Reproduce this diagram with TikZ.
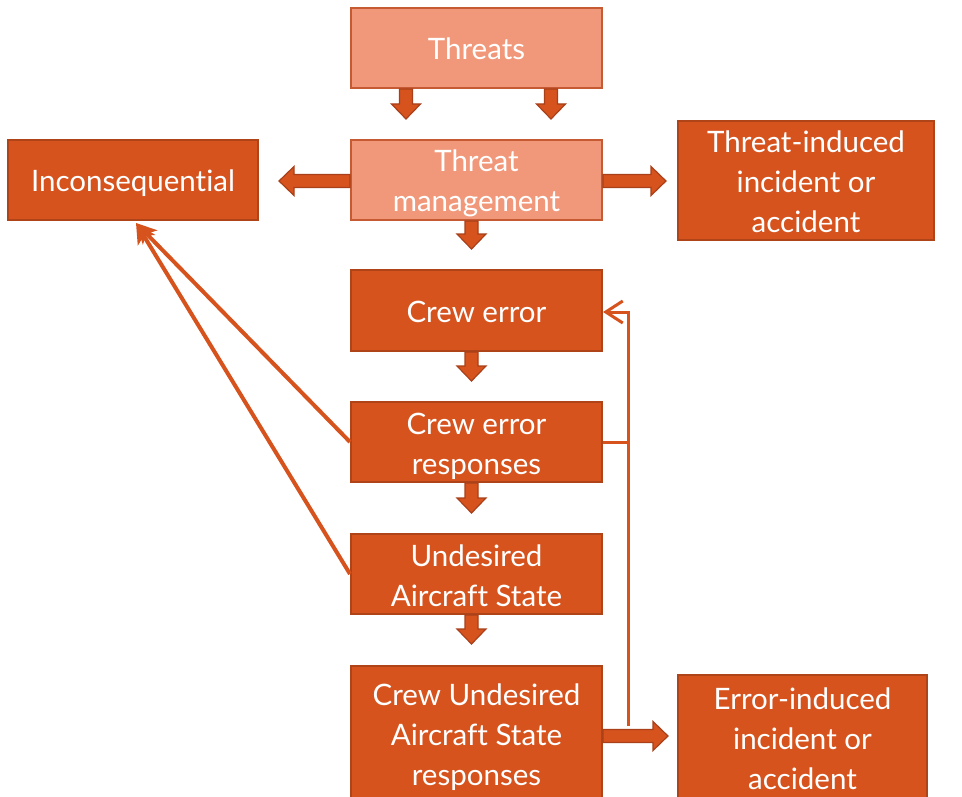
\documentclass[tikz,border=0pt]{standalone}
\usepackage{fontspec}
\setmainfont{Lato}[Ligatures={NoCommon}]
\usetikzlibrary{calc,arrows.meta}

\definecolor{darkfill}{HTML}{D6531E}
\definecolor{darkline}{HTML}{B04419}
\definecolor{lightfill}{HTML}{F1987A}
\definecolor{lightline}{HTML}{C55A33}
\definecolor{arrline}{HTML}{A9401A}

% block arrow: start point, direction angle, length
\newcommand\blockarrow[3]{%
  \filldraw[blockarr, shift={#1}, rotate=#2]
    (0,-6.5) -- ({#3-15},-6.5) -- ({#3-15},-14.5) -- (#3,0)
    -- ({#3-15},14.5) -- ({#3-15},6.5) -- (0,6.5) -- cycle;}

% box text: rows of equal height, set a little below the box centre
\newcommand\lines[1]{\raisebox{0pt}[\height][\dimexpr\depth-8pt\relax]{%
  \begin{tabular}{@{}c@{}}#1\end{tabular}}}

\tikzset{
  box/.style={draw=darkline, fill=darkfill, line width=2pt, text=white,
    align=center, inner sep=0pt, font=\fontsize{29.5}{40}\selectfont},
  lightbox/.style={box, draw=lightline, fill=lightfill},
  blockarr/.style={fill=darkfill, draw=arrline, line width=1.2pt, line join=miter},
  conv/.style={draw=darkfill, line width=4pt, -{Stealth[length=20pt,width=20pt,inset=5pt]}},
  fb/.style={draw=darkfill, line width=3pt},
}

\begin{document}
\begin{tikzpicture}[x=1pt, y=-1pt]
\useasboundingbox (0,0) rectangle (962,797);
\clip (0,0) rectangle (962,797);

% boxes
\node[lightbox, minimum width=251pt, minimum height=80pt] (threats) at (476.5,48) {\lines{Threats}};
\node[lightbox, minimum width=251pt, minimum height=80pt] (tm) at (476.5,180) {\lines{Threat\\management}};
\node[box, minimum width=250pt, minimum height=80pt] (incon) at (133,180) {\lines{Inconsequential}};
\node[box, minimum width=256pt, minimum height=119pt] (tia) at (806,180.5) {\lines{Threat-induced\\incident or\\accident}};
\node[box, minimum width=251pt, minimum height=81pt] (ce) at (476.5,310.5) {\lines{Crew error}};
\node[box, minimum width=251pt, minimum height=80pt] (cer) at (476.5,442) {\lines{Crew error\\responses}};
\node[box, minimum width=251pt, minimum height=80pt] (uas) at (476.5,574) {\lines{Undesired\\Aircraft State}};
\node[box, minimum width=251pt, minimum height=134pt] (cuas) at (476.5,733) {\lines{Crew Undesired\\Aircraft State\\responses}};
\node[box, minimum width=249pt, minimum height=124pt] (eia) at (802.5,737) {\lines{Error-induced\\incident or\\accident}};

% block arrows
\blockarrow{($(threats.south)+(-70.5,0)$)}{-90}{30}
\blockarrow{($(threats.south)+(74.5,0)$)}{-90}{30}
\blockarrow{($(tm.south)+(-5,0)$)}{-90}{28}
\blockarrow{($(tm.west)+(0,1)$)}{180}{71}
\blockarrow{($(tm.east)+(0,1)$)}{0}{63}
\blockarrow{($(ce.south)+(-5,0)$)}{-90}{29}
\blockarrow{($(cer.south)+(-5,0)$)}{-90}{30}
\blockarrow{($(uas.south)+(-5,0)$)}{-90}{29}
\blockarrow{($(cuas.east)+(0,3)$)}{0}{65}

% back to inconsequential
\coordinate (itip) at (136,223);
\draw[conv] (cer.west) -- (itip);
\draw[conv] (uas.west) -- (itip);

% feedback loop to crew error
\coordinate (fbbot) at (628,726);
\draw[fb, -{Straight Barb[length=17pt,width=22pt]}] (fbbot) |- ($(ce.east)+(0,1.5)$);
\draw[fb] (cer.east) -- (cer.east -| fbbot);
\end{tikzpicture}
\end{document}
